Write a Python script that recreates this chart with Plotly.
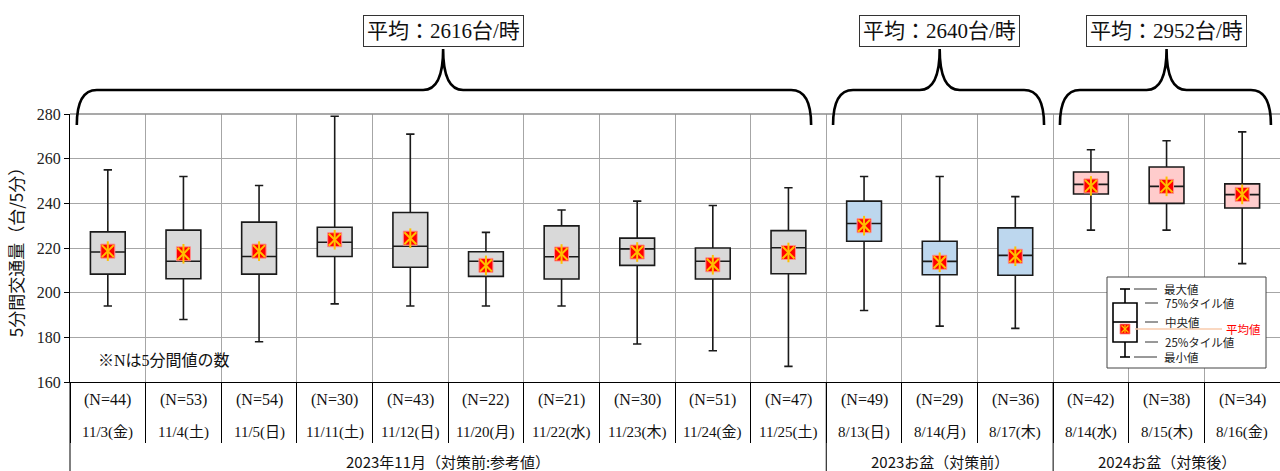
import plotly.graph_objects as go

# ---------------- data ----------------
dates = ["11/3(金)", "11/4(土)", "11/5(日)", "11/11(土)", "11/12(日)", "11/20(月)",
         "11/22(水)", "11/23(木)", "11/24(金)", "11/25(土)",
         "8/13(日)", "8/14(月)", "8/17(木)",
         "8/14(水)", "8/15(木)", "8/16(金)"]
n_counts = [44, 53, 54, 30, 43, 22, 21, 30, 51, 47, 49, 29, 36, 42, 38, 34]
maxs = [255, 252, 248, 279, 271, 227, 237, 241, 239, 247, 252, 252, 243, 264, 268, 272]
q3s = [227.2, 228, 231.6, 229.3, 235.9, 218.3, 229.9, 224.4, 220, 227.8, 241, 223, 229, 254, 256.3, 248.7]
medians = [218.2, 214.1, 216.2, 222.6, 220.8, 214.1, 216.1, 219.6, 214.1, 220.1, 231, 214, 216.7, 248.5, 247.6, 243.9]
q1s = [208.3, 206.2, 208.3, 216.2, 211.4, 207.3, 206.1, 212.2, 206.1, 208.5, 223, 208, 207.8, 244.2, 240, 237.9]
mins = [194, 188, 178, 195, 194, 194, 194, 177, 174, 167, 192, 185, 184, 228, 228, 213]
means = [218.6, 217.4, 218.6, 223.7, 224.4, 212.2, 217.3, 218.2, 212.5, 218, 230, 213.6, 216.3, 247.8, 247.6, 244]
group_names = ["2023年11月（対策前:参考値）", "2023お盆（対策前）", "2024お盆（対策後）"]
group_sizes = [10, 3, 3]
group_avgs = [2616, 2640, 2952]
group_fills = ["#d9d9d9", "#bdd7ee", "#ffcccc"]
y_ticks = [160, 180, 200, 220, 240, 260, 280]

# ---------------- geometry helpers ----------------
W, H = 1280, 471
ML, MR, MT, MB = 70, 0, 114, 89
PW, PH = W - ML - MR, H - MT - MB
NCAT = len(dates)


def xp_of(x):  # data x -> paper
    return (x + 0.5) / NCAT


def px2paper(px, py):
    return (px - ML) / PW, (MT + PH - py) / PH


def yp_of_px(py):
    return (MT + PH - py) / PH


SERIF = "Liberation Serif, Times New Roman, Noto Sans CJK JP"
SANS = "Noto Sans CJK JP, Noto Sans, sans-serif"
STAR = "#ffc000"

fig = go.Figure()

# boxes per group
start = 0
for g, size in enumerate(group_sizes):
    idx = list(range(start, start + size))
    fig.add_trace(go.Box(
        x=idx,
        q1=[q1s[i] for i in idx], median=[medians[i] for i in idx], q3=[q3s[i] for i in idx],
        lowerfence=[mins[i] for i in idx], upperfence=[maxs[i] for i in idx],
        fillcolor=group_fills[g], line=dict(color="#1a1a1a", width=1.6),
        width=0.46, whiskerwidth=0.24, boxpoints=False, showlegend=False,
        hoverinfo="skip"))
    start += size

xs = list(range(NCAT))
fig.add_trace(go.Scatter(x=xs, y=means, mode="markers", showlegend=False, hoverinfo="skip",
                         marker=dict(symbol="square", size=14, color="#ff0000",
                                     line=dict(color="#ff8f8f", width=1))))
fig.add_trace(go.Scatter(x=xs, y=means, mode="markers", showlegend=False, hoverinfo="skip",
                         marker=dict(symbol="x-thin-open", size=12, color=STAR,
                                     line=dict(color=STAR, width=2))))
fig.add_trace(go.Scatter(x=xs, y=means, mode="markers", showlegend=False, hoverinfo="skip",
                         marker=dict(symbol="line-ns-open", size=14, color=STAR,
                                     line=dict(color=STAR, width=2))))

shapes = []
annotations = []

# top border line of plot area (280 gridline)
shapes.append(dict(type="line", xref="paper", yref="paper", x0=0, x1=1, y0=1, y1=1,
                   line=dict(color="#8c8c8c", width=1.5)))

# category table labels
for i in range(NCAT):
    annotations.append(dict(x=i, y=yp_of_px(400), xref="x", yref="paper",
                            xanchor="center", yanchor="middle",
                            text=f"(N={n_counts[i]})", showarrow=False,
                            font=dict(family=SERIF, size=16, color="#111")))
    annotations.append(dict(x=i, y=yp_of_px(432), xref="x", yref="paper",
                            xanchor="center", yanchor="middle",
                            text=dates[i], showarrow=False,
                            font=dict(family=SERIF, size=15, color="#111")))

# group separators, group labels, braces, averages
start = 0
for g, size in enumerate(group_sizes):
    x0 = start - 0.5
    x1 = start + size - 0.5
    xc = (x0 + x1) / 2
    shapes.append(dict(type="line", xref="paper", yref="paper", x0=xp_of(x0), x1=xp_of(x0),
                       y0=0, y1=-MB / PH, line=dict(color="#000", width=1)))
    annotations.append(dict(x=xc, y=yp_of_px(461), xref="x", yref="paper",
                            xanchor="center", yanchor="middle",
                            text=group_names[g], showarrow=False,
                            font=dict(family=SANS, size=15, color="#111")))
    # brace
    a = xp_of(x0 + 0.09)
    b = xp_of(x1 - 0.2 if g == 0 else x1 - 0.12)
    c = xp_of(xc) - (5 / PW if g == 0 else 0)
    r = 20 / PW
    ye = yp_of_px(125)
    yh = yp_of_px(90)
    yp = yp_of_px(49)
    path = (f"M {a},{ye} Q {a},{yh} {a + r},{yh} L {c - r},{yh} Q {c},{yh} {c},{yp} "
            f"Q {c},{yh} {c + r},{yh} L {b - r},{yh} Q {b},{yh} {b},{ye}")
    shapes.append(dict(type="path", xref="paper", yref="paper", path=path,
                       line=dict(color="#000", width=2.6)))
    annotations.append(dict(x=c, y=yp_of_px(30.5), xref="paper", yref="paper",
                            xanchor="center", yanchor="middle",
                            text=f"平均：{group_avgs[g]}台/時", showarrow=False,
                            font=dict(family=SERIF, size=21, color="#111"),
                            bordercolor="#333", borderwidth=1, borderpad=3, bgcolor="#fff"))
    start += size

# ---------------- inset legend (drawn) ----------------
def rect_px(x0, y0, x1, y1, **kw):
    a0, b0 = px2paper(x0, y0)
    a1, b1 = px2paper(x1, y1)
    shapes.append(dict(type="rect", xref="paper", yref="paper", x0=a0, y0=b0, x1=a1, y1=b1, **kw))


def line_px(x0, y0, x1, y1, color="#000", width=1.2):
    a0, b0 = px2paper(x0, y0)
    a1, b1 = px2paper(x1, y1)
    shapes.append(dict(type="line", xref="paper", yref="paper", x0=a0, y0=b0, x1=a1, y1=b1,
                       line=dict(color=color, width=width)))


def text_px(x, y, txt, color="#222", size=11.5):
    a, b = px2paper(x, y)
    annotations.append(dict(x=a, y=b, xref="paper", yref="paper", text=txt, showarrow=False,
                            xanchor="left", yanchor="middle",
                            font=dict(family=SANS, size=size, color=color)))


rect_px(1107, 277, 1266, 368, line=dict(color="#444", width=1), fillcolor="#fff")
line_px(1125, 289, 1125, 303, width=1.6)
line_px(1125, 342, 1125, 357, width=1.6)
line_px(1120, 289, 1130, 289, width=1.6)
line_px(1120, 357, 1130, 357, width=1.6)
rect_px(1113, 303, 1137, 342, line=dict(color="#000", width=1.6), fillcolor="rgba(0,0,0,0)")
line_px(1113, 322, 1137, 322, width=1.6)
line_px(1135, 329, 1222, 329, color="#f8cbad", width=1.5)
rect_px(1120, 324, 1130, 334, line=dict(color="#ff8f8f", width=0.8), fillcolor="#ff0000")
line_px(1121.5, 325.5, 1128.5, 332.5, color=STAR, width=1.2)
line_px(1121.5, 332.5, 1128.5, 325.5, color=STAR, width=1.2)
line_px(1125, 325, 1125, 333, color=STAR, width=1.2)
for (lx0, lx1, ly, t) in [(1134, 1157, 289, "最大値"), (1145, 1158, 303, "75%タイル値"),
                          (1145, 1158, 322, "中央値"), (1145, 1158, 342, "25%タイル値"),
                          (1134, 1157, 357, "最小値")]:
    line_px(lx0, ly, lx1, ly, color="#333", width=1)
    text_px(lx1 + 5, ly, t)
text_px(1224, 329, "平均値", color="#ff0000")

# note
nx, ny = px2paper(96, 360)
annotations.append(dict(x=nx, y=ny, xref="paper", yref="paper", text="※Nは5分間値の数",
                        showarrow=False, xanchor="left", yanchor="middle",
                        font=dict(family=SERIF, size=16, color="#111")))

boundaries = [i - 0.5 for i in range(NCAT + 1)]

fig.update_layout(
    width=W, height=H, margin=dict(l=ML, r=MR, t=MT, b=MB),
    paper_bgcolor="#fff", plot_bgcolor="#fff", boxmode="overlay",
    shapes=shapes, annotations=annotations,
    xaxis=dict(range=[-0.5, NCAT - 0.5], tickvals=boundaries, showticklabels=False,
               showgrid=True, gridcolor="#a6a6a6", gridwidth=1.2,
               ticks="outside", ticklen=60, tickcolor="#000", tickwidth=1,
               showline=True, linecolor="#000", linewidth=1.2, zeroline=False),
    yaxis=dict(range=[160, 280], tickvals=y_ticks, showgrid=True, gridcolor="#a6a6a6",
               gridwidth=1.2, ticks="outside", ticklen=5, tickcolor="#000",
               showline=True, linecolor="#000", linewidth=1.2, zeroline=False,
               tickfont=dict(family=SERIF, size=16, color="#222"),
               title=dict(text="5分間交通量（台/5分）", standoff=8,
                          font=dict(family=SANS, size=17, color="#111"))),
)

fig.write_html("out.html", config={"displayModeBar": False},
               post_script="document.body.style.margin='0';document.body.style.overflow='hidden';")
